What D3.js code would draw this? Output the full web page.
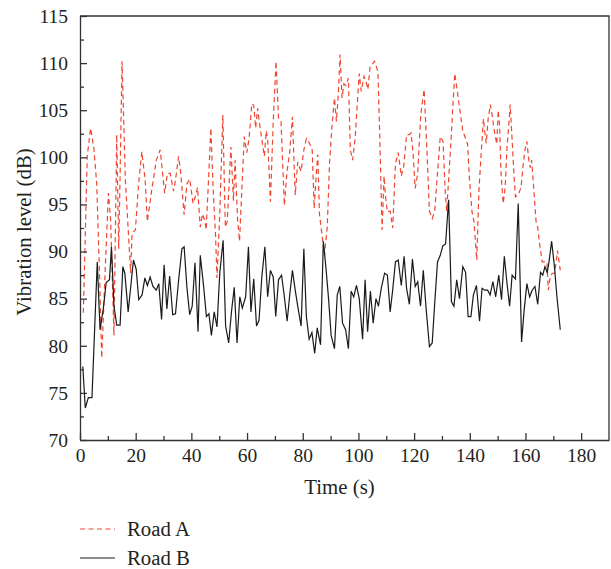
<!DOCTYPE html>
<html>
<head>
<meta charset="utf-8">
<script src="https://cdn.jsdelivr.net/npm/d3@7"></script>
<style>
  body { margin: 0; background: #fff; }
  svg text { font-family: "Liberation Serif", "Times New Roman", serif; fill: #231f20; }
  .axis path, .axis line { stroke: #333; }
</style>
</head>
<body>
<svg id="chart" width="611" height="569"></svg>
<script>
// Road A (dashed red) – [time s, level dB]
const roadA = [
  [1.2,83.5],[2.6,100.1],[3.8,103.1],[5.0,100.9],[6.0,97.2],[7.0,87.7],[7.8,78.7],[9.0,87.7],[10.2,96.2],[11.0,93.4],
  [12.2,81.1],[13.2,102.4],[13.9,90.3],[14.4,98],[15.1,110.2],[16.3,97.6],[18.2,87.7],[18.7,92.0],[19.9,92.3],[21.0,97.0],
  [22.2,100.6],[23.4,97.6],[24.2,93.2],[25.8,96.6],[27.4,99.7],[28.8,100.8],[30.4,96.2],[31.4,98.3],[32.4,98.3],[33.6,96.4],
  [34.3,97.6],[35.4,100.1],[36.2,98.3],[37.4,93.9],[38.4,97.2],[39.4,97.7],[40.6,95.1],[41.6,96.0],[42.2,96.8],[43.2,92.6],
  [44.0,94.0],[44.9,93.2],[45.3,92.3],[46.1,97.2],[47.0,103.1],[47.8,96.8],[48.7,91.6],[49.2,87.2],[50.2,94.0],[51.3,104.5],
  [52.2,92.6],[52.9,93.2],[54.2,101.1],[55.1,95.4],[55.7,99.7],[56.6,93.4],[57.3,91.1],[58.0,95.8],[59.0,102.2],[59.9,100.5],
  [60.7,101.9],[61.7,105.7],[62.4,105.5],[63.1,103.1],[63.8,105.2],[64.6,103.3],[65.3,101.9],[66.2,100.1],[66.9,102.8],[67.4,101.9],
  [68.4,95.3],[69.4,103.8],[70.4,110.2],[71.3,104.1],[72.2,103.8],[73.4,94.9],[74.4,98.6],[75.3,100.5],[76.3,104.3],[77.3,96.0],
  [78.2,99.5],[79.4,98.5],[80.4,100.8],[81.3,102.0],[82.4,101.5],[83.4,100.8],[84.1,94.6],[84.8,98.0],[85.4,100.3],[86.0,94.0],
  [87.8,89.6],[88.8,92.6],[89.6,99.2],[90.4,102.9],[91.4,106.3],[92.1,103.8],[92.8,106.8],[93.4,110.9],[94.1,106.3],[94.8,107.8],
  [95.5,107.6],[96.4,108.4],[97.1,100.8],[97.9,99.7],[98.8,101.9],[99.5,105.3],[100.3,108.9],[101.0,107.0],[102.0,108.6],[102.7,108.1],
  [103.4,107.2],[104.2,109.6],[105.8,110.2],[107.0,109.1],[107.7,101.9],[108.5,92.3],[109.2,98.0],[109.7,95.9],[110.4,94.2],[111.4,94.3],
  [112.3,92.5],[113.3,99.3],[114.3,100.5],[115.4,98.0],[116.3,99.1],[117.3,102.4],[118.3,102.4],[118.9,102.6],[119.6,100.5],[120.4,96.7],
  [121.3,98.3],[122.4,104.6],[123.6,107.2],[124.6,100.8],[125.5,94.3],[126.5,93.5],[127.4,94.3],[128.4,98.3],[129.4,102.2],[130.4,101.7],
  [131.2,96.2],[131.7,94.3],[132.4,97.6],[133.2,101.5],[133.9,105.3],[134.6,108.9],[135.3,107.5],[136.3,105.3],[137.5,102.8],[139.2,101.4],
  [139.9,97.6],[140.8,94.2],[141.5,93.2],[142.5,89.1],[143.3,96.6],[144.4,101.9],[144.9,104.1],[145.4,102.6],[145.9,101.5],[146.6,104.1],
  [147.4,105.6],[148.1,104.3],[148.8,102.8],[149.7,101.4],[150.2,105.0],[150.7,103.4],[151.2,98.4],[152.0,95.1],[152.7,96.8],[153.4,101.2],
  [154.1,103.8],[154.5,105.6],[155.2,101.9],[155.9,98.0],[156.4,95.8],[157.4,96.0],[158.4,96.8],[159.1,99.0],[159.8,100.8],[160.5,101.7],
  [161.2,99.7],[161.7,98.9],[162.2,99.7],[163.0,96.6],[163.8,93.2],[164.4,92.6],[165.2,90.5],[166.0,88.9],[167.0,88.9],[167.7,88.9],
  [168.2,85.9],[168.9,87.3],[169.6,87.7],[170.4,87.7],[171.0,88.8],[171.5,90.1],[172.5,88.0]
];

// Road B (solid black)
const roadB = [
  [1.0,77.8],[1.9,73.4],[3.0,74.5],[4.3,74.5],[6.2,88.9],[7.2,81.7],[8.4,84.0],[9.4,86.7],[10.6,87.0],[11.3,90.5],
  [12.2,84.2],[13.2,82.2],[14.4,82.2],[15.4,88.4],[16.1,87.7],[17.3,83.6],[19.2,89.1],[20.2,88.1],[21.1,84.9],[22.3,85.4],
  [23.3,87.2],[24.2,86.4],[25.2,87.3],[26.2,86.3],[27.4,85.9],[28.3,86.6],[29.3,82.8],[30.2,88.6],[31.2,83.9],[32.2,87.4],
  [33.3,83.3],[34.3,83.4],[35.4,86.9],[36.6,90.3],[37.4,90.5],[38.4,86.2],[39.4,83.3],[40.3,84.2],[41.3,88.8],[42.4,81.5],
  [43.2,89.6],[44.4,86.3],[45.4,83.1],[46.3,83.4],[47.2,81.1],[48.2,83.6],[49.2,82.0],[50.2,87.7],[51.4,91.2],[52.3,82.1],
  [53.4,80.3],[54.4,83.6],[55.4,86.2],[56.4,80.3],[57.4,85.2],[58.3,84.0],[59.5,85.2],[60.5,90.5],[61.4,83.6],[62.4,87.1],
  [63.4,82.1],[64.3,82.7],[65.3,87.3],[66.4,90.5],[67.4,85.2],[68.4,88.0],[69.4,87.3],[70.3,83.1],[71.3,87.0],[72.4,87.5],
  [73.4,85.2],[74.4,82.6],[75.4,85.6],[76.3,88.0],[77.3,85.9],[78.2,84.2],[79.4,82.1],[80.4,90.3],[81.3,83.1],[82.3,80.7],
  [83.3,81.4],[84.3,79.2],[85.2,81.9],[86.4,80.1],[87.4,91.1],[88.3,88.4],[89.3,84.9],[90.2,81.1],[91.4,79.7],[92.4,85.4],
  [93.3,86.3],[94.3,82.4],[95.4,81.7],[96.4,79.7],[97.4,85.8],[98.3,85.2],[99.3,86.4],[100.3,85.0],[101.5,80.7],[102.4,87.0],
  [103.3,81.5],[104.3,85.8],[105.3,82.4],[106.3,85.0],[107.2,84.2],[108.2,86.1],[109.4,87.7],[110.4,87.5],[111.4,83.6],[112.3,85.9],
  [113.3,88.9],[114.3,89.1],[115.4,86.4],[116.4,89.5],[117.3,86.1],[118.3,84.4],[119.4,89.2],[120.4,86.3],[121.3,86.8],[122.3,84.2],
  [123.3,88.0],[124.3,84.0],[125.5,79.9],[126.5,80.3],[127.4,84.5],[128.4,88.9],[129.4,89.6],[130.3,90.6],[131.3,90.8],[132.4,95.5],
  [133.4,84.7],[134.3,84.2],[135.3,87.0],[136.3,85.0],[137.5,88.4],[138.5,87.8],[139.4,83.1],[140.4,83.1],[141.3,85.4],[142.4,86.4],
  [143.5,82.6],[144.4,86.1],[145.4,85.9],[146.4,85.9],[147.3,85.4],[148.3,86.8],[149.3,85.2],[150.4,87.5],[151.4,84.9],[152.4,89.5],
  [153.3,86.8],[154.3,84.2],[155.2,87.5],[156.4,87.1],[157.4,95.1],[158.6,80.4],[159.5,83.7],[160.5,86.6],[161.5,85.2],[162.4,85.9],
  [163.4,86.3],[164.4,84.4],[165.4,87.8],[166.2,87.5],[167.0,88.4],[167.8,87.8],[168.4,88.8],[169.4,91.1],[170.4,88.4],[171.3,85.2],
  [172.5,81.7]
];

const xTicks = [0, 20, 40, 60, 80, 100, 120, 140, 160, 180];
const xMinorTicks = [10, 30, 50, 70, 90, 110, 130, 150, 170];
const yTicks = [70, 75, 80, 85, 90, 95, 100, 105, 110, 115];
const yMinorTicks = [72.5, 77.5, 82.5, 87.5, 92.5, 97.5, 102.5, 107.5, 112.5];
const seriesNames = ["Road A", "Road B"];

const svg = d3.select('#chart');

const plotLeft = 80, plotRight = 609, plotTop = 16, plotBottom = 440;
const tickFont = 19.5;
const titleFont = 20.8;

const x = d3.scaleLinear().domain([0, 190]).range([plotLeft, plotRight]);
const y = d3.scaleLinear().domain([70, 115]).range([plotBottom, plotTop]);

// lines first, frame on top
const line = d3.line()
    .x(d => x(d[0]))
    .y(d => y(d[1]));

svg.append('path')
    .datum(roadA)
    .attr('d', line)
    .attr('fill', 'none')
    .attr('stroke', '#ef4631')
    .attr('stroke-width', 1.2)
    .attr('stroke-dasharray', '5,3.5');

svg.append('path')
    .datum(roadB)
    .attr('d', line)
    .attr('fill', 'none')
    .attr('stroke', '#1a1a1a')
    .attr('stroke-width', 1.2);

// x axis (ticks inward)
const xAxis = svg.append('g')
    .attr('class', 'axis')
    .attr('transform', `translate(0, ${plotBottom})`)
    .call(d3.axisBottom(x).tickValues(xTicks).tickSize(-7).tickPadding(8).tickSizeOuter(0));
xAxis.selectAll('text').style('font-size', tickFont + 'px');

svg.append('g')
    .attr('class', 'axis')
    .attr('transform', `translate(0, ${plotBottom})`)
    .call(d3.axisBottom(x).tickValues(xMinorTicks).tickSize(-4).tickFormat('').tickSizeOuter(0))
    .select('.domain').remove();

// y axis
const yAxis = svg.append('g')
    .attr('class', 'axis')
    .attr('transform', `translate(${plotLeft}, 0)`)
    .call(d3.axisLeft(y).tickValues(yTicks).tickSize(-7).tickPadding(12).tickSizeOuter(0));
yAxis.selectAll('text').style('font-size', tickFont + 'px');

svg.append('g')
    .attr('class', 'axis')
    .attr('transform', `translate(${plotLeft}, 0)`)
    .call(d3.axisLeft(y).tickValues(yMinorTicks).tickSize(-4).tickFormat('').tickSizeOuter(0))
    .select('.domain').remove();

svg.selectAll('.axis path, .axis line').attr('stroke-width', 1.3);

// top and right frame
svg.append('path')
    .attr('d', `M${plotLeft},${plotTop}H${plotRight}V${plotBottom}`)
    .attr('fill', 'none')
    .attr('stroke', '#333')
    .attr('stroke-width', 1.3);

// axis titles
svg.append('text')
    .attr('x', (plotLeft + plotRight) / 2 - 5)
    .attr('y', 494)
    .attr('text-anchor', 'middle')
    .style('font-size', titleFont + 'px')
    .text('Time (s)');

svg.append('text')
    .attr('transform', 'rotate(-90)')
    .attr('x', -232)
    .attr('y', 31)
    .attr('text-anchor', 'middle')
    .style('font-size', titleFont + 'px')
    .text('Vibration level (dB)');

// legend
const legend = svg.append('g');
const legendRows = [
  { name: seriesNames[0], color: '#ef4631', dash: '5,3.5', y: 529 },
  { name: seriesNames[1], color: '#1a1a1a', dash: null, y: 558 }
];
legendRows.forEach(r => {
    legend.append('line')
        .attr('x1', 80).attr('x2', 115)
        .attr('y1', r.y).attr('y2', r.y)
        .attr('stroke', r.color)
        .attr('stroke-width', 1.2)
        .attr('stroke-dasharray', r.dash);
    legend.append('text')
        .attr('x', 127)
        .attr('y', r.y + 7)
        .style('font-size', titleFont + 'px')
        .text(r.name);
});
</script>
</body>
</html>
